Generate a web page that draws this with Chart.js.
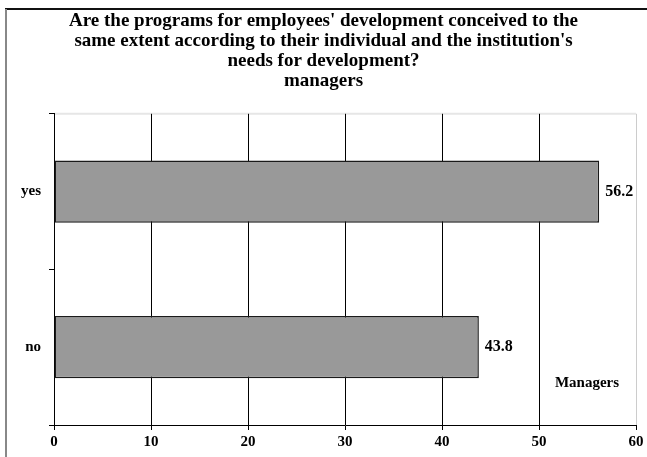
<!DOCTYPE html>
<html>
<head>
<meta charset="utf-8">
<script src="https://cdn.jsdelivr.net/npm/chart.js@4/dist/chart.umd.min.js"></script>
<style>
  html, body { margin: 0; padding: 0; background: #ffffff; }
  #wrap { position: relative; width: 647px; height: 457px; }
</style>
</head>
<body>
<div id="wrap"><canvas id="c" width="647" height="457"></canvas></div>
<script>
const categories = ["yes", "no"];
const seriesName = "Managers";
const values = [56.2, 43.8];
const xTicks = [0, 10, 20, 30, 40, 50, 60];
const titleLines = [
  "Are the programs for employees' development conceived to the",
  "same extent according to their individual and the institution's",
  "needs for development?",
  "managers"
];

const SERIF = "'Liberation Serif', 'Times New Roman', serif";

const framePlugin = {
  id: 'frame',
  beforeDraw(chart) {
    const ctx = chart.ctx;
    ctx.save();
    ctx.fillStyle = '#ffffff';
    ctx.fillRect(0, 0, chart.width, chart.height);
    ctx.strokeStyle = '#111111';
    ctx.lineWidth = 2;
    ctx.beginPath();
    ctx.moveTo(5, 9);
    ctx.lineTo(chart.width, 9);
    ctx.stroke();
    ctx.strokeStyle = '#888888';
    ctx.beginPath();
    ctx.moveTo(6, 9);
    ctx.lineTo(6, chart.height);
    ctx.stroke();
    const a = chart.chartArea;
    ctx.strokeStyle = '#e6e6e6';
    ctx.lineWidth = 2;
    ctx.beginPath();
    ctx.moveTo(a.left, a.top);
    ctx.lineTo(a.right, a.top);
    ctx.stroke();
    ctx.restore();
  }
};

const labelPlugin = {
  id: 'barLabels',
  afterDatasetsDraw(chart) {
    const ctx = chart.ctx;
    const meta = chart.getDatasetMeta(0);
    const ds = chart.data.datasets[0];
    ctx.save();
    ctx.fillStyle = '#000000';
    ctx.font = 'bold 16px ' + SERIF;
    ctx.textAlign = 'left';
    ctx.textBaseline = 'middle';
    meta.data.forEach((bar, i) => {
      ctx.fillText(ds.data[i].toFixed(1), bar.x + 6, bar.y);
    });
    const a = chart.chartArea;
    ctx.font = 'bold 15px ' + SERIF;
    ctx.textAlign = 'center';
    ctx.fillText(ds.label, a.right - 49, a.bottom - 42);
    ctx.restore();
  }
};

new Chart(document.getElementById('c'), {
  type: 'bar',
  data: {
    labels: categories,
    datasets: [{
      label: seriesName,
      data: values,
      backgroundColor: '#999999',
      borderColor: '#1a1a1a',
      borderWidth: 1.5,
      borderSkipped: false,
      barPercentage: 0.4,
      categoryPercentage: 1.0
    }]
  },
  options: {
    indexAxis: 'y',
    responsive: false,
    animation: false,
    devicePixelRatio: 1,
    layout: { padding: { left: 11, right: 11, top: 0, bottom: 0 } },
    plugins: {
      legend: { display: false },
      tooltip: { enabled: false },
      title: {
        display: true,
        text: titleLines,
        color: '#000000',
        font: { family: SERIF, size: 19, weight: 'bold', lineHeight: 1.05 },
        padding: { top: 11, bottom: 23 }
      }
    },
    scales: {
      x: {
        min: 0,
        max: 60,
        afterBuildTicks(s) { s.ticks = xTicks.map(v => ({ value: v })); },
        afterFit(s) { s.height = 32; },
        border: { display: true, color: '#000000', width: 1 },
        grid: {
          color: ctx => (ctx.tick && ctx.tick.value === 60) ? '#cccccc' : '#000000',
          lineWidth: 1,
          drawTicks: true,
          tickLength: 5,
          tickColor: '#000000'
        },
        ticks: {
          color: '#000000',
          font: { family: SERIF, size: 15, weight: 'bold' },
          padding: 3,
          maxRotation: 0
        }
      },
      y: {
        offset: true,
        afterFit(s) { s.width = 43; },
        border: { display: true, color: '#000000', width: 1 },
        grid: {
          offset: true,
          drawOnChartArea: false,
          drawTicks: true,
          tickLength: 5,
          color: '#000000'
        },
        ticks: {
          color: '#000000',
          font: { family: SERIF, size: 15, weight: 'bold' },
          padding: 8
        }
      }
    }
  },
  plugins: [framePlugin, labelPlugin]
});
</script>
</body>
</html>
